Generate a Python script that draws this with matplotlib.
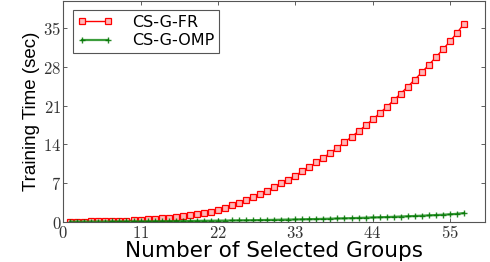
import matplotlib
matplotlib.use("Agg")
import matplotlib.pyplot as plt
from matplotlib.ticker import FuncFormatter

plt.rcParams['mathtext.fontset'] = 'cm'

groups = list(range(1, 58))
fr_time = [0.05, 0.06, 0.07, 0.08, 0.10, 0.12, 0.15, 0.19, 0.24, 0.30,
           0.37, 0.45, 0.54, 0.65, 0.78, 0.91, 1.05, 1.20, 1.36, 1.55,
           1.86, 2.22, 2.60, 3.03, 3.50, 3.99, 4.52, 5.08, 5.67, 6.30,
           6.96, 7.65, 8.38, 9.13, 9.92, 10.75, 11.60, 12.49, 13.41, 14.37,
           15.36, 16.38, 17.43, 18.51, 19.63, 20.78, 21.97, 23.19, 24.44, 25.72,
           27.03, 28.38, 29.76, 31.18, 32.62, 34.15, 35.80]
omp_time = [0.05, 0.05, 0.06, 0.06, 0.07, 0.07, 0.08, 0.08, 0.09, 0.10,
            0.10, 0.11, 0.12, 0.13, 0.14, 0.15, 0.16, 0.17, 0.19, 0.20,
            0.21, 0.23, 0.24, 0.26, 0.28, 0.29, 0.31, 0.33, 0.35, 0.37,
            0.40, 0.42, 0.44, 0.47, 0.50, 0.52, 0.55, 0.58, 0.62, 0.65,
            0.68, 0.72, 0.76, 0.80, 0.84, 0.88, 0.92, 0.97, 1.02, 1.07,
            1.12, 1.18, 1.24, 1.30, 1.37, 1.46, 1.60]
x_ticks = [0, 11, 22, 33, 44, 55]
y_ticks = [0, 7, 14, 21, 28, 35]

fig = plt.figure(figsize=(4.9, 2.62), dpi=100)
ax = fig.add_axes([0.129, 0.153, 0.861, 0.845])

ax.plot(groups, fr_time, color='red', lw=1.0, marker='s', ms=4.0,
        mfc=(1, 0.72, 0.72), mec='red', mew=0.9, label='CS-G-FR')
ax.plot(groups, omp_time, color=(0.1, 0.55, 0.1), lw=1.6, alpha=0.85,
        marker='+', ms=5, mec=(0, 0.45, 0), mew=1.0, label='CS-G-OMP')

ax.set_xlim(0, 60)
ax.set_ylim(0, 40)
ax.set_xticks(x_ticks)
ax.set_yticks(y_ticks)
fmt = FuncFormatter(lambda v, p: r'$%d$' % v)
ax.xaxis.set_major_formatter(fmt)
ax.yaxis.set_major_formatter(fmt)
ax.tick_params(direction='in', top=True, right=True, length=3, width=0.6,
               labelsize=12, pad=1.5, colors='#444444', labelcolor='#333333')
for s in ax.spines.values():
    s.set_color('#555555')
    s.set_linewidth(0.8)

ax.set_xlabel('Number of Selected Groups', fontsize=15.5, family='DejaVu Sans', labelpad=-0.5)
ax.set_ylabel('Training Time (sec)', fontsize=13.5, family='Liberation Sans', labelpad=2)

leg = ax.legend(loc='upper left', prop={'family': 'DejaVu Sans', 'size': 11.5},
                fancybox=False, edgecolor='#555555', framealpha=1, numpoints=2,
                handlelength=2.2, borderaxespad=0.6, borderpad=0.3,
                labelspacing=0.2, handletextpad=1.2)
leg.get_frame().set_linewidth(0.8)

fig.savefig('out.png', dpi=100)
